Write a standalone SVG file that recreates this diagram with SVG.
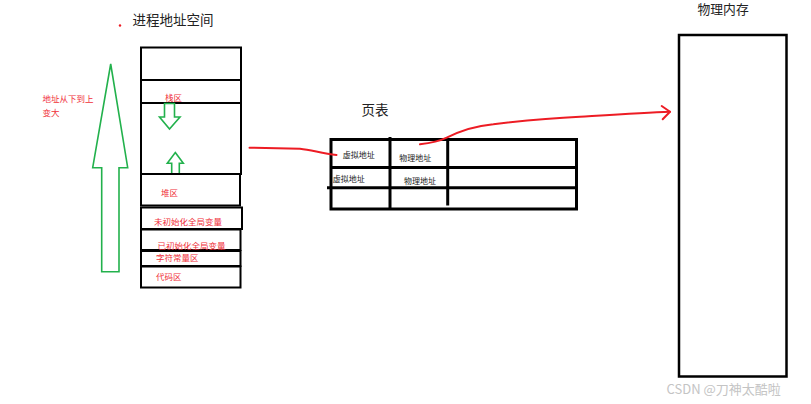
<svg xmlns="http://www.w3.org/2000/svg" width="811" height="404" viewBox="0 0 811 404">
  <style>
    .box { fill: #ffffff; stroke: #000000; stroke-width: 2; }
    .ln { stroke: #000000; stroke-width: 2; fill: none; }
    .tbl { stroke: #000000; stroke-width: 3; fill: none; }
    .grn { fill: #ffffff; stroke: #22b14c; stroke-width: 1.6; stroke-linejoin: miter; }
    .red { stroke: #ed1c24; stroke-width: 2; fill: none; stroke-linecap: round; stroke-linejoin: round; }
    .t { font-family: "Noto Sans CJK SC", "Noto Sans", sans-serif; }
    .title { font-size: 13.5px; fill: #222222; }
    .rt { font-size: 8.5px; fill: #f0303a; }
    .bt { font-size: 8px; fill: #222222; }
    .wm { font-family: "Noto Sans CJK SC", "Liberation Sans", sans-serif; font-size: 13px; fill: #c4c4c4; }
  </style>

  <g id="process-space">
    <text class="t title" x="132.5" y="24.8">进程地址空间</text>
    <circle cx="120" cy="25.5" r="1.2" fill="#ed1c24"/>
    <rect class="box" x="141" y="47.5" width="100" height="126.5"/>
    <line class="ln" x1="141" y1="80" x2="241" y2="80"/>
    <line class="ln" x1="141" y1="103" x2="241" y2="103"/>
    <text class="t rt" x="165" y="101.3">栈区</text>
    <polygon class="grn" points="164.5,103.5 174.5,103.5 174.5,117 180,117 169.5,129 159.5,117 164.5,117"/>
    <polygon class="grn" points="175.3,152.5 183.3,163.3 179.3,163.3 179.3,174 171.7,174 171.7,163.3 167.3,163.3"/>
    <rect class="box" x="141" y="174" width="99" height="31.5"/>
    <text class="t rt" x="161" y="196">堆区</text>
    <rect class="box" x="141" y="207.5" width="101" height="21.5"/>
    <text class="t rt" x="154" y="224.7">未初始化全局变量</text>
    <rect class="box" x="141" y="229.5" width="99.5" height="20.5"/>
    <text class="t rt" x="157.5" y="249.2">已初始化全局变量</text>
    <rect class="box" x="141" y="251" width="99.5" height="15"/>
    <text class="t rt" x="156" y="261.3">字符常量区</text>
    <rect class="box" x="141" y="266.5" width="99.5" height="21"/>
    <text class="t rt" x="156" y="279.7">代码区</text>
  </g>

  <g id="growth-arrow">
    <polygon class="grn" points="110.7,64 127.7,167.7 119,167.7 119,271.7 101.7,271.7 101.7,167.7 92.7,167.7"/>
    <text class="t rt" x="42.5" y="102.3">地址从下到上</text>
    <text class="t rt" x="42.5" y="116.3">变大</text>
  </g>

  <g id="page-table">
    <text class="t title" x="361.5" y="114.8">页表</text>
    <rect class="tbl" x="331" y="139.5" width="245.5" height="69.5"/>
    <line class="tbl" x1="331" y1="167.5" x2="576.5" y2="167.5"/>
    <line class="tbl" x1="327" y1="187.8" x2="576.5" y2="187.8"/>
    <line class="tbl" x1="390" y1="137" x2="390" y2="209"/>
    <line class="tbl" x1="447.7" y1="139.5" x2="447.7" y2="205.5"/>
    <text class="t bt" x="342.7" y="157.8">虚拟地址</text>
    <text class="t bt" x="399.3" y="160.5">物理地址</text>
    <text class="t bt" x="332.7" y="181.8">虚拟地址</text>
    <text class="t bt" x="404" y="183.8">物理地址</text>
  </g>

  <g id="physical-memory">
    <text class="t title" x="697.5" y="14.2" style="font-size:12.8px">物理内存</text>
    <rect class="box" x="679" y="35" width="107.5" height="341.5" style="stroke-width:2.5"/>
  </g>

  <g id="connectors">
    <path class="red" d="M249.5,147.7 L300,148.7 C312,150 322,153.5 336.5,155"/>
    <path class="red" d="M420,144.3 C432,143 440,141 446.7,137.7 C460,131 475,126 493.3,124.3 C520,121 550,118 580,116.7 C615,114.5 645,112.5 670,111.7"/>
    <path class="red" d="M661.7,106 L670,111.7 L662.7,119.3"/>
  </g>

  <text class="wm" x="666.5" y="394">CSDN @刀神太酷啦</text>
</svg>
